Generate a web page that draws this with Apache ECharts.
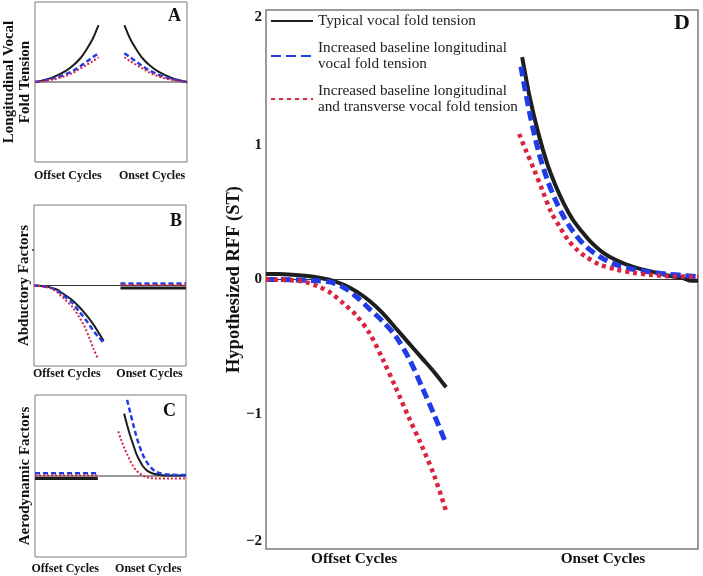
<!DOCTYPE html>
<html>
<head>
<meta charset="utf-8">
<script src="https://cdn.jsdelivr.net/npm/echarts@6/dist/echarts.min.js"></script>
<style>html,body{margin:0;padding:0;background:#fff}#c{width:703px;height:576px}</style>
</head>
<body>
<div id="c"></div>
<script>
// ---------- data ----------
const seriesNames = ['Typical vocal fold tension',
  'Increased baseline longitudinal\nvocal fold tension',
  'Increased baseline longitudinal\nand transverse vocal fold tension'];
const xTickLabels = ['Offset Cycles', 'Onset Cycles'];
const yTicksD = [-2, -1, 0, 1, 2];

// Panel A: Longitudinal vocal fold tension
const aOffX = [0, 5, 10, 15, 20, 25, 30, 34, 38, 41.8];
const aOffTypical = [0, 0.02, 0.045, 0.085, 0.135, 0.205, 0.3, 0.41, 0.54, 0.71];
const aOffLong = [0, 0.015, 0.035, 0.06, 0.095, 0.14, 0.2, 0.255, 0.31, 0.36];
const aOffLongTrans = [0, 0.01, 0.025, 0.045, 0.075, 0.115, 0.17, 0.215, 0.26, 0.31];
const aOnX = [58.8, 62.6, 66.6, 70.6, 75.6, 80.6, 85.6, 90.6, 95.6, 100];
const aOnTypical = [0.71, 0.54, 0.41, 0.3, 0.205, 0.135, 0.085, 0.045, 0.02, 0];
const aOnLong = [0.36, 0.31, 0.255, 0.2, 0.14, 0.095, 0.06, 0.035, 0.015, 0];
const aOnLongTrans = [0.31, 0.26, 0.215, 0.17, 0.115, 0.075, 0.045, 0.025, 0.01, 0];

// Panel B: Abductory factors
const bOffX = [0, 5, 10, 15, 19, 25, 30, 35, 38.6, 42, 45.8];
const bOffTypical = [0, -0.005, -0.02, -0.05, -0.1, -0.18, -0.27, -0.38, -0.47, -0.57, -0.69];
const bOffLong = [0, -0.005, -0.025, -0.06, -0.12, -0.21, -0.33, -0.45, -0.55, -0.63, -0.71];
const bOffLongTransX = [0, 5, 10.5, 15, 19, 25, 30, 33, 36.6, 39, 41.8];
const bOffLongTrans = [0, -0.01, -0.03, -0.08, -0.15, -0.26, -0.4, -0.5, -0.66, -0.78, -0.9];
const bOnX = [56.9, 100];
const bOnTypical = [-0.03, -0.03];
const bOnLong = [0.025, 0.025];
const bOnLongTrans = [0.005, 0.005];

// Panel C: Aerodynamic factors
const cOffX = [0, 41.6];
const cOffTypical = [-0.03, -0.03];
const cOffLong = [0.035, 0.035];
const cOffLongTrans = [0.005, 0.005];
const cOnTypicalX = [59, 61, 63, 65, 67, 69, 71.5, 74, 78, 84, 90, 100];
const cOnTypical = [0.77, 0.63, 0.5, 0.39, 0.28, 0.2, 0.12, 0.07, 0.03, 0.01, 0.005, 0.005];
const cOnLongX = [61, 63, 65, 67, 69, 71, 73.7, 77, 80.2, 85, 90, 100];
const cOnLong = [0.94, 0.79, 0.64, 0.5, 0.38, 0.28, 0.18, 0.1, 0.05, 0.025, 0.015, 0.012];
const cOnLongTransX = [55.1, 57, 59, 61, 63, 65, 67, 69.5, 72, 76, 80, 90, 100];
const cOnLongTrans = [0.55, 0.45, 0.35, 0.27, 0.19, 0.12, 0.07, 0.03, 0, -0.025, -0.03, -0.03, -0.03];

// Panel D: Hypothesized RFF (ST)
const dOffX = [0, 3, 6, 9, 12, 15, 18, 21, 24, 27, 30, 33, 36, 39, 41.7];
const dOffTypical = [0.04, 0.04, 0.036, 0.028, 0.015, -0.005, -0.04, -0.09, -0.16, -0.25, -0.36, -0.47, -0.58, -0.69, -0.8];
const dOffLong = [0, 0, -0.002, -0.005, -0.01, -0.02, -0.06, -0.13, -0.22, -0.31, -0.42, -0.58, -0.79, -1.01, -1.22];
const dOffLongTrans = [0, -0.002, -0.006, -0.018, -0.05, -0.1, -0.18, -0.27, -0.4, -0.59, -0.8, -1.02, -1.23, -1.46, -1.72];
const dOnTypicalX = [59.3, 61, 63, 65, 67, 69, 71, 73, 75, 78, 81, 85, 89, 93, 96.5, 98.5, 100];
const dOnTypical = [1.65, 1.36, 1.09, 0.87, 0.7, 0.56, 0.445, 0.36, 0.285, 0.2, 0.145, 0.093, 0.06, 0.03, 0.01, -0.01, -0.01];
const dOnLongX = [59, 61, 63, 65, 67, 69, 71, 73, 75, 78, 81, 85, 89, 93, 96.5, 100];
const dOnLong = [1.58, 1.24, 0.96, 0.75, 0.59, 0.46, 0.36, 0.28, 0.22, 0.155, 0.11, 0.075, 0.055, 0.04, 0.03, 0.02];
const dOnLongTransX = [58.6, 60, 62, 64, 66, 68, 70, 72, 74, 77, 81, 85, 89, 93, 100];
const dOnLongTrans = [1.08, 0.97, 0.82, 0.66, 0.5, 0.39, 0.29, 0.22, 0.17, 0.115, 0.075, 0.05, 0.035, 0.025, 0.02];

// ---------- build ----------
const zip = (xs, ys) => xs.map((x, i) => [x, ys[i]]);
const FONT = '"Liberation Serif", "Times New Roman", serif';
const COLORS = ['#1e1e1e', '#1f3ce6', '#d9233f'];

function styleFor(kind, big, thickFlat) {
  if (kind === 0) return { color: COLORS[0], width: big ? 4 : (thickFlat ? 3 : 2), type: 'solid' };
  if (kind === 1) return { color: COLORS[1], width: big ? 5 : 2.5, type: big ? [10, 5] : [5, 3] };
  return { color: COLORS[2], width: big ? 4.5 : 2, type: big ? [4, 4] : [2, 2] };
}
function mk(grid, kind, data, big, name, thickFlat) {
  return {
    type: 'line', name: name, xAxisIndex: grid, yAxisIndex: grid,
    data: data, symbol: 'none', showSymbol: false, smooth: data.length > 2 ? 0.3 : false,
    lineStyle: styleFor(kind, big, thickFlat), itemStyle: { color: COLORS[kind] },
    z: 3 + kind, silent: true
  };
}
function zeroLine(grid) {
  return {
    type: 'line', xAxisIndex: grid, yAxisIndex: grid, data: [[0, 0], [100, 0]],
    symbol: 'none', lineStyle: { color: '#333', width: 1 }, z: 2, silent: true
  };
}

const series = [
  zeroLine(0), zeroLine(1), zeroLine(2), zeroLine(3),
  mk(0, 0, zip(aOffX, aOffTypical)), mk(0, 1, zip(aOffX, aOffLong)), mk(0, 2, zip(aOffX, aOffLongTrans)),
  mk(0, 0, zip(aOnX, aOnTypical)), mk(0, 1, zip(aOnX, aOnLong)), mk(0, 2, zip(aOnX, aOnLongTrans)),
  mk(1, 0, zip(bOffX, bOffTypical)), mk(1, 1, zip(bOffX, bOffLong)), mk(1, 2, zip(bOffLongTransX, bOffLongTrans)),
  mk(1, 0, zip(bOnX, bOnTypical), false, undefined, true), mk(1, 1, zip(bOnX, bOnLong)), mk(1, 2, zip(bOnX, bOnLongTrans)),
  mk(2, 0, zip(cOffX, cOffTypical), false, undefined, true), mk(2, 1, zip(cOffX, cOffLong)), mk(2, 2, zip(cOffX, cOffLongTrans)),
  mk(2, 0, zip(cOnTypicalX, cOnTypical)), mk(2, 1, zip(cOnLongX, cOnLong)), mk(2, 2, zip(cOnLongTransX, cOnLongTrans)),
  mk(3, 0, zip(dOffX, dOffTypical), true, seriesNames[0]),
  mk(3, 1, zip(dOffX, dOffLong), true, seriesNames[1]),
  mk(3, 2, zip(dOffX, dOffLongTrans), true, seriesNames[2]),
  mk(3, 0, zip(dOnTypicalX, dOnTypical), true, seriesNames[0]),
  mk(3, 1, zip(dOnLongX, dOnLong), true, seriesNames[1]),
  mk(3, 2, zip(dOnLongTransX, dOnLongTrans), true, seriesNames[2])
];

const grids = [
  { left: 34, top: 2, width: 153, height: 160 },
  { left: 34, top: 205, width: 152, height: 161 },
  { left: 35, top: 395, width: 151, height: 162 },
  { left: 266, top: 10, width: 432, height: 539 }
].map((g, i) => Object.assign(g, { show: true, borderColor: '#7a7a7a', borderWidth: i === 3 ? 1.5 : 1, backgroundColor: 'transparent' }));

const labelPos = [[21.6, 77], [21.6, 76], [20, 75], [20.4, 78]];
const labelMargin = [8, 2, 6, 3];
const xAxes = grids.map((g, i) => ({
  type: 'value', gridIndex: i, min: 0, max: 100,
  axisLine: { show: false }, axisTick: { show: false }, splitLine: { show: false },
  axisLabel: {
    customValues: labelPos[i], formatter: v => (v < 50 ? xTickLabels[0] : xTickLabels[1]),
    fontFamily: FONT, fontWeight: 'bold', fontSize: i === 3 ? 15.3 : 12, color: '#111',
    margin: labelMargin[i]
  }
}));

const yNames = ['Longitudinal Vocal\nFold Tension', 'Abductory Factors', 'Aerodynamic Factors', 'Hypothesized RFF (ST)'];
const yAxes = grids.map((g, i) => {
  const big = i === 3;
  const ax = {
    type: 'value', gridIndex: i, min: big ? -2 : -1, max: big ? 2 : 1,
    axisLine: { show: false }, splitLine: { show: false },
    name: yNames[i], nameLocation: 'middle', nameGap: big ? 22 : 2, nameMoveOverlap: false,
    nameTextStyle: { fontFamily: FONT, fontWeight: 'bold', fontSize: big ? 18.5 : 15, color: '#111', lineHeight: big ? 20 : 16 },
    axisTick: { show: false },
    axisLabel: { show: false }
  };
  if (big) {
    ax.interval = 1;
    ax.axisLabel = {
      show: true, customValues: yTicksD,
      formatter: v => (v < 0 ? '\u2212' + Math.abs(v) : String(v)),
      verticalAlignMaxLabel: 'top', verticalAlignMinLabel: 'bottom',
      fontFamily: FONT, fontWeight: 'bold', fontSize: 15, color: '#111', margin: 4
    };
  }
  if (i === 1) {
    ax.axisTick = { show: true, customValues: [0.45], length: 2, lineStyle: { color: '#333', width: 1.5 } };
  }
  return ax;
});

const letters = [
  { text: 'A', left: 168, top: 7, size: 18 },
  { text: 'B', left: 170, top: 212, size: 18 },
  { text: 'C', left: 163, top: 402, size: 18 },
  { text: 'D', left: 674, top: 12, size: 22 }
].map(l => ({
  text: l.text, left: l.left, top: l.top, padding: 0,
  textStyle: { fontFamily: FONT, fontWeight: 'bold', fontSize: l.size, color: '#111' }
}));

const chart = echarts.init(document.getElementById('c'), null, { renderer: 'canvas' });
chart.setOption({
  animation: false,
  backgroundColor: '#fff',
  title: letters,
  legend: {
    data: seriesNames, orient: 'vertical', left: 270, top: 13,
    itemWidth: 42, itemHeight: 14, itemGap: 11, padding: 0,
    lineStyle: { width: 2 },
    itemStyle: { color: 'rgba(0,0,0,0)', borderWidth: 0, opacity: 0 },
    textStyle: { fontFamily: FONT, fontSize: 15.2, color: '#222', lineHeight: 16 },
    selectedMode: false
  },
  grid: grids, xAxis: xAxes, yAxis: yAxes, series: series
});
</script>
</body>
</html>
